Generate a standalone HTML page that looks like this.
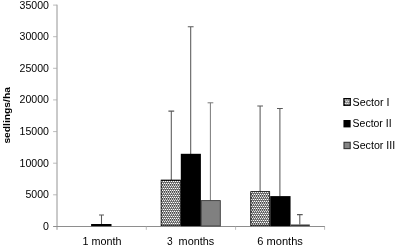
<!DOCTYPE html>
<html><head><meta charset="utf-8"><title>chart</title>
<style>
html,body{margin:0;padding:0;background:#fff;}
svg{display:block}
text{font-family:"Liberation Sans",sans-serif;fill:#000;}
</style></head><body>
<svg width="395" height="246" viewBox="0 0 395 246">
<defs>
<clipPath id="c1"><rect x="160.6" y="179.6" width="20.2" height="46.6"/></clipPath>
<clipPath id="c2"><rect x="250.3" y="191.2" width="19.9" height="35.0"/></clipPath>
<clipPath id="c3"><rect x="343.3" y="98.0" width="7.6" height="7.9"/></clipPath>
</defs>
<rect width="395" height="246" fill="#fff"/>
<!-- axes -->
<g stroke="#949494" stroke-width="1" fill="none">
<line x1="57" y1="4.7" x2="57" y2="229.8"/>
<line x1="53.1" y1="226.5" x2="325" y2="226.5" stroke="#8e8e8e"/>
<g stroke="#aaa" stroke-width="0.8">
<line x1="53.1" y1="5.1" x2="57" y2="5.1"/>
<line x1="53.1" y1="36.7" x2="57" y2="36.7"/>
<line x1="53.1" y1="68.3" x2="57" y2="68.3"/>
<line x1="53.1" y1="99.9" x2="57" y2="99.9"/>
<line x1="53.1" y1="131.6" x2="57" y2="131.6"/>
<line x1="53.1" y1="163.2" x2="57" y2="163.2"/>
<line x1="53.1" y1="194.8" x2="57" y2="194.8"/>
<line x1="146.3" y1="226.4" x2="146.3" y2="229.8"/>
<line x1="235.6" y1="226.4" x2="235.6" y2="229.8"/>
<line x1="324.6" y1="226.4" x2="324.6" y2="229.8"/>
</g>
</g>
<!-- error bars -->
<g stroke="#5a5a5a" stroke-width="1.05" fill="none">
<path d="M101.5 225V214.9M99 214.9H104"/>
<path d="M171.3 180V111.1M168.4 111.1H174.2"/>
<path d="M190.7 154V26.8M187.8 26.8H193.6"/>
<path d="M210.4 200.5V102.8M207.6 102.8H213.3" stroke="#727272" stroke-width="0.95"/>
<path d="M260.1 191.5V106M257.3 106H263"/>
<path d="M279.9 196.5V108.5M277 108.5H282.8"/>
<path d="M299.8 224.5V214.6M297 214.6H302.7"/>
</g>
<!-- bars -->
<rect x="91.1" y="224" width="20.4" height="2.2" fill="#000"/>
<g clip-path="url(#c1)"><rect x="160.6" y="179.6" width="20.2" height="46.6" fill="#101010"/><g fill="#fff"><circle cx="161.50" cy="181.50" r="0.87"/><circle cx="163.50" cy="181.50" r="0.87"/><circle cx="165.50" cy="181.50" r="0.87"/><circle cx="167.50" cy="181.50" r="0.87"/><circle cx="169.50" cy="181.50" r="0.87"/><circle cx="171.50" cy="181.50" r="0.87"/><circle cx="173.50" cy="181.50" r="0.87"/><circle cx="175.50" cy="181.50" r="0.87"/><circle cx="177.50" cy="181.50" r="0.87"/><circle cx="179.50" cy="181.50" r="0.87"/><circle cx="181.50" cy="181.50" r="0.87"/><circle cx="162.50" cy="183.25" r="0.87"/><circle cx="164.50" cy="183.25" r="0.87"/><circle cx="166.50" cy="183.25" r="0.87"/><circle cx="168.50" cy="183.25" r="0.87"/><circle cx="170.50" cy="183.25" r="0.87"/><circle cx="172.50" cy="183.25" r="0.87"/><circle cx="174.50" cy="183.25" r="0.87"/><circle cx="176.50" cy="183.25" r="0.87"/><circle cx="178.50" cy="183.25" r="0.87"/><circle cx="180.50" cy="183.25" r="0.87"/><circle cx="161.50" cy="185.00" r="0.87"/><circle cx="163.50" cy="185.00" r="0.87"/><circle cx="165.50" cy="185.00" r="0.87"/><circle cx="167.50" cy="185.00" r="0.87"/><circle cx="169.50" cy="185.00" r="0.87"/><circle cx="171.50" cy="185.00" r="0.87"/><circle cx="173.50" cy="185.00" r="0.87"/><circle cx="175.50" cy="185.00" r="0.87"/><circle cx="177.50" cy="185.00" r="0.87"/><circle cx="179.50" cy="185.00" r="0.87"/><circle cx="181.50" cy="185.00" r="0.87"/><circle cx="162.50" cy="186.75" r="0.87"/><circle cx="164.50" cy="186.75" r="0.87"/><circle cx="166.50" cy="186.75" r="0.87"/><circle cx="168.50" cy="186.75" r="0.87"/><circle cx="170.50" cy="186.75" r="0.87"/><circle cx="172.50" cy="186.75" r="0.87"/><circle cx="174.50" cy="186.75" r="0.87"/><circle cx="176.50" cy="186.75" r="0.87"/><circle cx="178.50" cy="186.75" r="0.87"/><circle cx="180.50" cy="186.75" r="0.87"/><circle cx="161.50" cy="188.50" r="0.87"/><circle cx="163.50" cy="188.50" r="0.87"/><circle cx="165.50" cy="188.50" r="0.87"/><circle cx="167.50" cy="188.50" r="0.87"/><circle cx="169.50" cy="188.50" r="0.87"/><circle cx="171.50" cy="188.50" r="0.87"/><circle cx="173.50" cy="188.50" r="0.87"/><circle cx="175.50" cy="188.50" r="0.87"/><circle cx="177.50" cy="188.50" r="0.87"/><circle cx="179.50" cy="188.50" r="0.87"/><circle cx="181.50" cy="188.50" r="0.87"/><circle cx="162.50" cy="190.25" r="0.87"/><circle cx="164.50" cy="190.25" r="0.87"/><circle cx="166.50" cy="190.25" r="0.87"/><circle cx="168.50" cy="190.25" r="0.87"/><circle cx="170.50" cy="190.25" r="0.87"/><circle cx="172.50" cy="190.25" r="0.87"/><circle cx="174.50" cy="190.25" r="0.87"/><circle cx="176.50" cy="190.25" r="0.87"/><circle cx="178.50" cy="190.25" r="0.87"/><circle cx="180.50" cy="190.25" r="0.87"/><circle cx="161.50" cy="192.00" r="0.87"/><circle cx="163.50" cy="192.00" r="0.87"/><circle cx="165.50" cy="192.00" r="0.87"/><circle cx="167.50" cy="192.00" r="0.87"/><circle cx="169.50" cy="192.00" r="0.87"/><circle cx="171.50" cy="192.00" r="0.87"/><circle cx="173.50" cy="192.00" r="0.87"/><circle cx="175.50" cy="192.00" r="0.87"/><circle cx="177.50" cy="192.00" r="0.87"/><circle cx="179.50" cy="192.00" r="0.87"/><circle cx="181.50" cy="192.00" r="0.87"/><circle cx="162.50" cy="193.75" r="0.87"/><circle cx="164.50" cy="193.75" r="0.87"/><circle cx="166.50" cy="193.75" r="0.87"/><circle cx="168.50" cy="193.75" r="0.87"/><circle cx="170.50" cy="193.75" r="0.87"/><circle cx="172.50" cy="193.75" r="0.87"/><circle cx="174.50" cy="193.75" r="0.87"/><circle cx="176.50" cy="193.75" r="0.87"/><circle cx="178.50" cy="193.75" r="0.87"/><circle cx="180.50" cy="193.75" r="0.87"/><circle cx="161.50" cy="195.50" r="0.87"/><circle cx="163.50" cy="195.50" r="0.87"/><circle cx="165.50" cy="195.50" r="0.87"/><circle cx="167.50" cy="195.50" r="0.87"/><circle cx="169.50" cy="195.50" r="0.87"/><circle cx="171.50" cy="195.50" r="0.87"/><circle cx="173.50" cy="195.50" r="0.87"/><circle cx="175.50" cy="195.50" r="0.87"/><circle cx="177.50" cy="195.50" r="0.87"/><circle cx="179.50" cy="195.50" r="0.87"/><circle cx="181.50" cy="195.50" r="0.87"/><circle cx="162.50" cy="197.25" r="0.87"/><circle cx="164.50" cy="197.25" r="0.87"/><circle cx="166.50" cy="197.25" r="0.87"/><circle cx="168.50" cy="197.25" r="0.87"/><circle cx="170.50" cy="197.25" r="0.87"/><circle cx="172.50" cy="197.25" r="0.87"/><circle cx="174.50" cy="197.25" r="0.87"/><circle cx="176.50" cy="197.25" r="0.87"/><circle cx="178.50" cy="197.25" r="0.87"/><circle cx="180.50" cy="197.25" r="0.87"/><circle cx="161.50" cy="199.00" r="0.87"/><circle cx="163.50" cy="199.00" r="0.87"/><circle cx="165.50" cy="199.00" r="0.87"/><circle cx="167.50" cy="199.00" r="0.87"/><circle cx="169.50" cy="199.00" r="0.87"/><circle cx="171.50" cy="199.00" r="0.87"/><circle cx="173.50" cy="199.00" r="0.87"/><circle cx="175.50" cy="199.00" r="0.87"/><circle cx="177.50" cy="199.00" r="0.87"/><circle cx="179.50" cy="199.00" r="0.87"/><circle cx="181.50" cy="199.00" r="0.87"/><circle cx="162.50" cy="200.75" r="0.87"/><circle cx="164.50" cy="200.75" r="0.87"/><circle cx="166.50" cy="200.75" r="0.87"/><circle cx="168.50" cy="200.75" r="0.87"/><circle cx="170.50" cy="200.75" r="0.87"/><circle cx="172.50" cy="200.75" r="0.87"/><circle cx="174.50" cy="200.75" r="0.87"/><circle cx="176.50" cy="200.75" r="0.87"/><circle cx="178.50" cy="200.75" r="0.87"/><circle cx="180.50" cy="200.75" r="0.87"/><circle cx="161.50" cy="202.50" r="0.87"/><circle cx="163.50" cy="202.50" r="0.87"/><circle cx="165.50" cy="202.50" r="0.87"/><circle cx="167.50" cy="202.50" r="0.87"/><circle cx="169.50" cy="202.50" r="0.87"/><circle cx="171.50" cy="202.50" r="0.87"/><circle cx="173.50" cy="202.50" r="0.87"/><circle cx="175.50" cy="202.50" r="0.87"/><circle cx="177.50" cy="202.50" r="0.87"/><circle cx="179.50" cy="202.50" r="0.87"/><circle cx="181.50" cy="202.50" r="0.87"/><circle cx="162.50" cy="204.25" r="0.87"/><circle cx="164.50" cy="204.25" r="0.87"/><circle cx="166.50" cy="204.25" r="0.87"/><circle cx="168.50" cy="204.25" r="0.87"/><circle cx="170.50" cy="204.25" r="0.87"/><circle cx="172.50" cy="204.25" r="0.87"/><circle cx="174.50" cy="204.25" r="0.87"/><circle cx="176.50" cy="204.25" r="0.87"/><circle cx="178.50" cy="204.25" r="0.87"/><circle cx="180.50" cy="204.25" r="0.87"/><circle cx="161.50" cy="206.00" r="0.87"/><circle cx="163.50" cy="206.00" r="0.87"/><circle cx="165.50" cy="206.00" r="0.87"/><circle cx="167.50" cy="206.00" r="0.87"/><circle cx="169.50" cy="206.00" r="0.87"/><circle cx="171.50" cy="206.00" r="0.87"/><circle cx="173.50" cy="206.00" r="0.87"/><circle cx="175.50" cy="206.00" r="0.87"/><circle cx="177.50" cy="206.00" r="0.87"/><circle cx="179.50" cy="206.00" r="0.87"/><circle cx="181.50" cy="206.00" r="0.87"/><circle cx="162.50" cy="207.75" r="0.87"/><circle cx="164.50" cy="207.75" r="0.87"/><circle cx="166.50" cy="207.75" r="0.87"/><circle cx="168.50" cy="207.75" r="0.87"/><circle cx="170.50" cy="207.75" r="0.87"/><circle cx="172.50" cy="207.75" r="0.87"/><circle cx="174.50" cy="207.75" r="0.87"/><circle cx="176.50" cy="207.75" r="0.87"/><circle cx="178.50" cy="207.75" r="0.87"/><circle cx="180.50" cy="207.75" r="0.87"/><circle cx="161.50" cy="209.50" r="0.87"/><circle cx="163.50" cy="209.50" r="0.87"/><circle cx="165.50" cy="209.50" r="0.87"/><circle cx="167.50" cy="209.50" r="0.87"/><circle cx="169.50" cy="209.50" r="0.87"/><circle cx="171.50" cy="209.50" r="0.87"/><circle cx="173.50" cy="209.50" r="0.87"/><circle cx="175.50" cy="209.50" r="0.87"/><circle cx="177.50" cy="209.50" r="0.87"/><circle cx="179.50" cy="209.50" r="0.87"/><circle cx="181.50" cy="209.50" r="0.87"/><circle cx="162.50" cy="211.25" r="0.87"/><circle cx="164.50" cy="211.25" r="0.87"/><circle cx="166.50" cy="211.25" r="0.87"/><circle cx="168.50" cy="211.25" r="0.87"/><circle cx="170.50" cy="211.25" r="0.87"/><circle cx="172.50" cy="211.25" r="0.87"/><circle cx="174.50" cy="211.25" r="0.87"/><circle cx="176.50" cy="211.25" r="0.87"/><circle cx="178.50" cy="211.25" r="0.87"/><circle cx="180.50" cy="211.25" r="0.87"/><circle cx="161.50" cy="213.00" r="0.87"/><circle cx="163.50" cy="213.00" r="0.87"/><circle cx="165.50" cy="213.00" r="0.87"/><circle cx="167.50" cy="213.00" r="0.87"/><circle cx="169.50" cy="213.00" r="0.87"/><circle cx="171.50" cy="213.00" r="0.87"/><circle cx="173.50" cy="213.00" r="0.87"/><circle cx="175.50" cy="213.00" r="0.87"/><circle cx="177.50" cy="213.00" r="0.87"/><circle cx="179.50" cy="213.00" r="0.87"/><circle cx="181.50" cy="213.00" r="0.87"/><circle cx="162.50" cy="214.75" r="0.87"/><circle cx="164.50" cy="214.75" r="0.87"/><circle cx="166.50" cy="214.75" r="0.87"/><circle cx="168.50" cy="214.75" r="0.87"/><circle cx="170.50" cy="214.75" r="0.87"/><circle cx="172.50" cy="214.75" r="0.87"/><circle cx="174.50" cy="214.75" r="0.87"/><circle cx="176.50" cy="214.75" r="0.87"/><circle cx="178.50" cy="214.75" r="0.87"/><circle cx="180.50" cy="214.75" r="0.87"/><circle cx="161.50" cy="216.50" r="0.87"/><circle cx="163.50" cy="216.50" r="0.87"/><circle cx="165.50" cy="216.50" r="0.87"/><circle cx="167.50" cy="216.50" r="0.87"/><circle cx="169.50" cy="216.50" r="0.87"/><circle cx="171.50" cy="216.50" r="0.87"/><circle cx="173.50" cy="216.50" r="0.87"/><circle cx="175.50" cy="216.50" r="0.87"/><circle cx="177.50" cy="216.50" r="0.87"/><circle cx="179.50" cy="216.50" r="0.87"/><circle cx="181.50" cy="216.50" r="0.87"/><circle cx="162.50" cy="218.25" r="0.87"/><circle cx="164.50" cy="218.25" r="0.87"/><circle cx="166.50" cy="218.25" r="0.87"/><circle cx="168.50" cy="218.25" r="0.87"/><circle cx="170.50" cy="218.25" r="0.87"/><circle cx="172.50" cy="218.25" r="0.87"/><circle cx="174.50" cy="218.25" r="0.87"/><circle cx="176.50" cy="218.25" r="0.87"/><circle cx="178.50" cy="218.25" r="0.87"/><circle cx="180.50" cy="218.25" r="0.87"/><circle cx="161.50" cy="220.00" r="0.87"/><circle cx="163.50" cy="220.00" r="0.87"/><circle cx="165.50" cy="220.00" r="0.87"/><circle cx="167.50" cy="220.00" r="0.87"/><circle cx="169.50" cy="220.00" r="0.87"/><circle cx="171.50" cy="220.00" r="0.87"/><circle cx="173.50" cy="220.00" r="0.87"/><circle cx="175.50" cy="220.00" r="0.87"/><circle cx="177.50" cy="220.00" r="0.87"/><circle cx="179.50" cy="220.00" r="0.87"/><circle cx="181.50" cy="220.00" r="0.87"/><circle cx="162.50" cy="221.75" r="0.87"/><circle cx="164.50" cy="221.75" r="0.87"/><circle cx="166.50" cy="221.75" r="0.87"/><circle cx="168.50" cy="221.75" r="0.87"/><circle cx="170.50" cy="221.75" r="0.87"/><circle cx="172.50" cy="221.75" r="0.87"/><circle cx="174.50" cy="221.75" r="0.87"/><circle cx="176.50" cy="221.75" r="0.87"/><circle cx="178.50" cy="221.75" r="0.87"/><circle cx="180.50" cy="221.75" r="0.87"/><circle cx="161.50" cy="223.50" r="0.87"/><circle cx="163.50" cy="223.50" r="0.87"/><circle cx="165.50" cy="223.50" r="0.87"/><circle cx="167.50" cy="223.50" r="0.87"/><circle cx="169.50" cy="223.50" r="0.87"/><circle cx="171.50" cy="223.50" r="0.87"/><circle cx="173.50" cy="223.50" r="0.87"/><circle cx="175.50" cy="223.50" r="0.87"/><circle cx="177.50" cy="223.50" r="0.87"/><circle cx="179.50" cy="223.50" r="0.87"/><circle cx="181.50" cy="223.50" r="0.87"/><circle cx="162.50" cy="225.25" r="0.87"/><circle cx="164.50" cy="225.25" r="0.87"/><circle cx="166.50" cy="225.25" r="0.87"/><circle cx="168.50" cy="225.25" r="0.87"/><circle cx="170.50" cy="225.25" r="0.87"/><circle cx="172.50" cy="225.25" r="0.87"/><circle cx="174.50" cy="225.25" r="0.87"/><circle cx="176.50" cy="225.25" r="0.87"/><circle cx="178.50" cy="225.25" r="0.87"/><circle cx="180.50" cy="225.25" r="0.87"/><circle cx="161.50" cy="227.00" r="0.87"/><circle cx="163.50" cy="227.00" r="0.87"/><circle cx="165.50" cy="227.00" r="0.87"/><circle cx="167.50" cy="227.00" r="0.87"/><circle cx="169.50" cy="227.00" r="0.87"/><circle cx="171.50" cy="227.00" r="0.87"/><circle cx="173.50" cy="227.00" r="0.87"/><circle cx="175.50" cy="227.00" r="0.87"/><circle cx="177.50" cy="227.00" r="0.87"/><circle cx="179.50" cy="227.00" r="0.87"/><circle cx="181.50" cy="227.00" r="0.87"/></g><rect x="161.03" y="180.03" width="19.35" height="45.75" fill="none" stroke="#000" stroke-width="0.85"/></g>
<rect x="180.8" y="153.8" width="20.1" height="72.4" fill="#000"/>
<rect x="201.3" y="200.6" width="19" height="25.4" fill="#808080" stroke="#3a3a3a" stroke-width="0.9"/>
<g clip-path="url(#c2)"><rect x="250.3" y="191.2" width="19.9" height="35.0" fill="#101010"/><g fill="#fff"><circle cx="251.50" cy="192.50" r="0.87"/><circle cx="253.50" cy="192.50" r="0.87"/><circle cx="255.50" cy="192.50" r="0.87"/><circle cx="257.50" cy="192.50" r="0.87"/><circle cx="259.50" cy="192.50" r="0.87"/><circle cx="261.50" cy="192.50" r="0.87"/><circle cx="263.50" cy="192.50" r="0.87"/><circle cx="265.50" cy="192.50" r="0.87"/><circle cx="267.50" cy="192.50" r="0.87"/><circle cx="269.50" cy="192.50" r="0.87"/><circle cx="252.50" cy="194.25" r="0.87"/><circle cx="254.50" cy="194.25" r="0.87"/><circle cx="256.50" cy="194.25" r="0.87"/><circle cx="258.50" cy="194.25" r="0.87"/><circle cx="260.50" cy="194.25" r="0.87"/><circle cx="262.50" cy="194.25" r="0.87"/><circle cx="264.50" cy="194.25" r="0.87"/><circle cx="266.50" cy="194.25" r="0.87"/><circle cx="268.50" cy="194.25" r="0.87"/><circle cx="270.50" cy="194.25" r="0.87"/><circle cx="251.50" cy="196.00" r="0.87"/><circle cx="253.50" cy="196.00" r="0.87"/><circle cx="255.50" cy="196.00" r="0.87"/><circle cx="257.50" cy="196.00" r="0.87"/><circle cx="259.50" cy="196.00" r="0.87"/><circle cx="261.50" cy="196.00" r="0.87"/><circle cx="263.50" cy="196.00" r="0.87"/><circle cx="265.50" cy="196.00" r="0.87"/><circle cx="267.50" cy="196.00" r="0.87"/><circle cx="269.50" cy="196.00" r="0.87"/><circle cx="252.50" cy="197.75" r="0.87"/><circle cx="254.50" cy="197.75" r="0.87"/><circle cx="256.50" cy="197.75" r="0.87"/><circle cx="258.50" cy="197.75" r="0.87"/><circle cx="260.50" cy="197.75" r="0.87"/><circle cx="262.50" cy="197.75" r="0.87"/><circle cx="264.50" cy="197.75" r="0.87"/><circle cx="266.50" cy="197.75" r="0.87"/><circle cx="268.50" cy="197.75" r="0.87"/><circle cx="270.50" cy="197.75" r="0.87"/><circle cx="251.50" cy="199.50" r="0.87"/><circle cx="253.50" cy="199.50" r="0.87"/><circle cx="255.50" cy="199.50" r="0.87"/><circle cx="257.50" cy="199.50" r="0.87"/><circle cx="259.50" cy="199.50" r="0.87"/><circle cx="261.50" cy="199.50" r="0.87"/><circle cx="263.50" cy="199.50" r="0.87"/><circle cx="265.50" cy="199.50" r="0.87"/><circle cx="267.50" cy="199.50" r="0.87"/><circle cx="269.50" cy="199.50" r="0.87"/><circle cx="252.50" cy="201.25" r="0.87"/><circle cx="254.50" cy="201.25" r="0.87"/><circle cx="256.50" cy="201.25" r="0.87"/><circle cx="258.50" cy="201.25" r="0.87"/><circle cx="260.50" cy="201.25" r="0.87"/><circle cx="262.50" cy="201.25" r="0.87"/><circle cx="264.50" cy="201.25" r="0.87"/><circle cx="266.50" cy="201.25" r="0.87"/><circle cx="268.50" cy="201.25" r="0.87"/><circle cx="270.50" cy="201.25" r="0.87"/><circle cx="251.50" cy="203.00" r="0.87"/><circle cx="253.50" cy="203.00" r="0.87"/><circle cx="255.50" cy="203.00" r="0.87"/><circle cx="257.50" cy="203.00" r="0.87"/><circle cx="259.50" cy="203.00" r="0.87"/><circle cx="261.50" cy="203.00" r="0.87"/><circle cx="263.50" cy="203.00" r="0.87"/><circle cx="265.50" cy="203.00" r="0.87"/><circle cx="267.50" cy="203.00" r="0.87"/><circle cx="269.50" cy="203.00" r="0.87"/><circle cx="252.50" cy="204.75" r="0.87"/><circle cx="254.50" cy="204.75" r="0.87"/><circle cx="256.50" cy="204.75" r="0.87"/><circle cx="258.50" cy="204.75" r="0.87"/><circle cx="260.50" cy="204.75" r="0.87"/><circle cx="262.50" cy="204.75" r="0.87"/><circle cx="264.50" cy="204.75" r="0.87"/><circle cx="266.50" cy="204.75" r="0.87"/><circle cx="268.50" cy="204.75" r="0.87"/><circle cx="270.50" cy="204.75" r="0.87"/><circle cx="251.50" cy="206.50" r="0.87"/><circle cx="253.50" cy="206.50" r="0.87"/><circle cx="255.50" cy="206.50" r="0.87"/><circle cx="257.50" cy="206.50" r="0.87"/><circle cx="259.50" cy="206.50" r="0.87"/><circle cx="261.50" cy="206.50" r="0.87"/><circle cx="263.50" cy="206.50" r="0.87"/><circle cx="265.50" cy="206.50" r="0.87"/><circle cx="267.50" cy="206.50" r="0.87"/><circle cx="269.50" cy="206.50" r="0.87"/><circle cx="252.50" cy="208.25" r="0.87"/><circle cx="254.50" cy="208.25" r="0.87"/><circle cx="256.50" cy="208.25" r="0.87"/><circle cx="258.50" cy="208.25" r="0.87"/><circle cx="260.50" cy="208.25" r="0.87"/><circle cx="262.50" cy="208.25" r="0.87"/><circle cx="264.50" cy="208.25" r="0.87"/><circle cx="266.50" cy="208.25" r="0.87"/><circle cx="268.50" cy="208.25" r="0.87"/><circle cx="270.50" cy="208.25" r="0.87"/><circle cx="251.50" cy="210.00" r="0.87"/><circle cx="253.50" cy="210.00" r="0.87"/><circle cx="255.50" cy="210.00" r="0.87"/><circle cx="257.50" cy="210.00" r="0.87"/><circle cx="259.50" cy="210.00" r="0.87"/><circle cx="261.50" cy="210.00" r="0.87"/><circle cx="263.50" cy="210.00" r="0.87"/><circle cx="265.50" cy="210.00" r="0.87"/><circle cx="267.50" cy="210.00" r="0.87"/><circle cx="269.50" cy="210.00" r="0.87"/><circle cx="252.50" cy="211.75" r="0.87"/><circle cx="254.50" cy="211.75" r="0.87"/><circle cx="256.50" cy="211.75" r="0.87"/><circle cx="258.50" cy="211.75" r="0.87"/><circle cx="260.50" cy="211.75" r="0.87"/><circle cx="262.50" cy="211.75" r="0.87"/><circle cx="264.50" cy="211.75" r="0.87"/><circle cx="266.50" cy="211.75" r="0.87"/><circle cx="268.50" cy="211.75" r="0.87"/><circle cx="270.50" cy="211.75" r="0.87"/><circle cx="251.50" cy="213.50" r="0.87"/><circle cx="253.50" cy="213.50" r="0.87"/><circle cx="255.50" cy="213.50" r="0.87"/><circle cx="257.50" cy="213.50" r="0.87"/><circle cx="259.50" cy="213.50" r="0.87"/><circle cx="261.50" cy="213.50" r="0.87"/><circle cx="263.50" cy="213.50" r="0.87"/><circle cx="265.50" cy="213.50" r="0.87"/><circle cx="267.50" cy="213.50" r="0.87"/><circle cx="269.50" cy="213.50" r="0.87"/><circle cx="252.50" cy="215.25" r="0.87"/><circle cx="254.50" cy="215.25" r="0.87"/><circle cx="256.50" cy="215.25" r="0.87"/><circle cx="258.50" cy="215.25" r="0.87"/><circle cx="260.50" cy="215.25" r="0.87"/><circle cx="262.50" cy="215.25" r="0.87"/><circle cx="264.50" cy="215.25" r="0.87"/><circle cx="266.50" cy="215.25" r="0.87"/><circle cx="268.50" cy="215.25" r="0.87"/><circle cx="270.50" cy="215.25" r="0.87"/><circle cx="251.50" cy="217.00" r="0.87"/><circle cx="253.50" cy="217.00" r="0.87"/><circle cx="255.50" cy="217.00" r="0.87"/><circle cx="257.50" cy="217.00" r="0.87"/><circle cx="259.50" cy="217.00" r="0.87"/><circle cx="261.50" cy="217.00" r="0.87"/><circle cx="263.50" cy="217.00" r="0.87"/><circle cx="265.50" cy="217.00" r="0.87"/><circle cx="267.50" cy="217.00" r="0.87"/><circle cx="269.50" cy="217.00" r="0.87"/><circle cx="252.50" cy="218.75" r="0.87"/><circle cx="254.50" cy="218.75" r="0.87"/><circle cx="256.50" cy="218.75" r="0.87"/><circle cx="258.50" cy="218.75" r="0.87"/><circle cx="260.50" cy="218.75" r="0.87"/><circle cx="262.50" cy="218.75" r="0.87"/><circle cx="264.50" cy="218.75" r="0.87"/><circle cx="266.50" cy="218.75" r="0.87"/><circle cx="268.50" cy="218.75" r="0.87"/><circle cx="270.50" cy="218.75" r="0.87"/><circle cx="251.50" cy="220.50" r="0.87"/><circle cx="253.50" cy="220.50" r="0.87"/><circle cx="255.50" cy="220.50" r="0.87"/><circle cx="257.50" cy="220.50" r="0.87"/><circle cx="259.50" cy="220.50" r="0.87"/><circle cx="261.50" cy="220.50" r="0.87"/><circle cx="263.50" cy="220.50" r="0.87"/><circle cx="265.50" cy="220.50" r="0.87"/><circle cx="267.50" cy="220.50" r="0.87"/><circle cx="269.50" cy="220.50" r="0.87"/><circle cx="252.50" cy="222.25" r="0.87"/><circle cx="254.50" cy="222.25" r="0.87"/><circle cx="256.50" cy="222.25" r="0.87"/><circle cx="258.50" cy="222.25" r="0.87"/><circle cx="260.50" cy="222.25" r="0.87"/><circle cx="262.50" cy="222.25" r="0.87"/><circle cx="264.50" cy="222.25" r="0.87"/><circle cx="266.50" cy="222.25" r="0.87"/><circle cx="268.50" cy="222.25" r="0.87"/><circle cx="270.50" cy="222.25" r="0.87"/><circle cx="251.50" cy="224.00" r="0.87"/><circle cx="253.50" cy="224.00" r="0.87"/><circle cx="255.50" cy="224.00" r="0.87"/><circle cx="257.50" cy="224.00" r="0.87"/><circle cx="259.50" cy="224.00" r="0.87"/><circle cx="261.50" cy="224.00" r="0.87"/><circle cx="263.50" cy="224.00" r="0.87"/><circle cx="265.50" cy="224.00" r="0.87"/><circle cx="267.50" cy="224.00" r="0.87"/><circle cx="269.50" cy="224.00" r="0.87"/><circle cx="252.50" cy="225.75" r="0.87"/><circle cx="254.50" cy="225.75" r="0.87"/><circle cx="256.50" cy="225.75" r="0.87"/><circle cx="258.50" cy="225.75" r="0.87"/><circle cx="260.50" cy="225.75" r="0.87"/><circle cx="262.50" cy="225.75" r="0.87"/><circle cx="264.50" cy="225.75" r="0.87"/><circle cx="266.50" cy="225.75" r="0.87"/><circle cx="268.50" cy="225.75" r="0.87"/><circle cx="270.50" cy="225.75" r="0.87"/></g><rect x="250.73" y="191.62" width="19.05" height="34.15" fill="none" stroke="#000" stroke-width="0.85"/></g>
<rect x="270.2" y="196.1" width="20.35" height="30.1" fill="#000"/>
<rect x="290.5" y="224.5" width="19.3" height="1.6" fill="#383838"/>
<!-- y labels -->
<g font-size="10.7" text-anchor="end">
<text x="49" y="8.5" textLength="29.4" lengthAdjust="spacingAndGlyphs">35000</text>
<text x="49" y="40.1" textLength="29.4" lengthAdjust="spacingAndGlyphs">30000</text>
<text x="49" y="71.7" textLength="29.4" lengthAdjust="spacingAndGlyphs">25000</text>
<text x="49" y="103.3" textLength="29.4" lengthAdjust="spacingAndGlyphs">20000</text>
<text x="49" y="134.9" textLength="29.4" lengthAdjust="spacingAndGlyphs">15000</text>
<text x="49" y="166.5" textLength="29.4" lengthAdjust="spacingAndGlyphs">10000</text>
<text x="49" y="198.1" textLength="23.5" lengthAdjust="spacingAndGlyphs">5000</text>
<text x="49" y="229.7" textLength="5.9" lengthAdjust="spacingAndGlyphs">0</text>
</g>
<!-- x labels -->
<g font-size="10.6">
<text x="82.4" y="244.7" textLength="39" lengthAdjust="spacingAndGlyphs">1 month</text>
<text y="244.7"><tspan x="167" textLength="5.7" lengthAdjust="spacingAndGlyphs">3</tspan> <tspan x="178.6" textLength="35.6" lengthAdjust="spacingAndGlyphs">months</tspan></text>
<text x="257.3" y="244.7" textLength="45.6" lengthAdjust="spacingAndGlyphs">6 months</text>
</g>
<!-- y title -->
<text transform="translate(10.4,143.6) rotate(-90)" font-size="9.9" font-weight="bold" textLength="56.5" lengthAdjust="spacingAndGlyphs">sedlings/ha</text>
<!-- legend -->
<g clip-path="url(#c3)"><rect x="343.3" y="98.0" width="7.6" height="7.9" fill="#101010"/><g fill="#fff"><circle cx="345.10" cy="99.90" r="0.85"/><circle cx="347.10" cy="99.90" r="0.85"/><circle cx="349.10" cy="99.90" r="0.85"/><circle cx="351.10" cy="99.90" r="0.85"/><circle cx="346.10" cy="101.65" r="0.85"/><circle cx="348.10" cy="101.65" r="0.85"/><circle cx="350.10" cy="101.65" r="0.85"/><circle cx="345.10" cy="103.40" r="0.85"/><circle cx="347.10" cy="103.40" r="0.85"/><circle cx="349.10" cy="103.40" r="0.85"/><circle cx="351.10" cy="103.40" r="0.85"/><circle cx="346.10" cy="105.15" r="0.85"/><circle cx="348.10" cy="105.15" r="0.85"/><circle cx="350.10" cy="105.15" r="0.85"/></g><rect x="343.90" y="98.60" width="6.40" height="6.70" fill="none" stroke="#000" stroke-width="1.2"/></g>
<rect x="343.45" y="120" width="7.2" height="7.4" fill="#000"/>
<rect x="344" y="142.3" width="6.2" height="6.3" fill="#858585" stroke="#333" stroke-width="1.1"/>
<g font-size="10">
<text x="352.6" y="105.5" textLength="36.9" lengthAdjust="spacingAndGlyphs">Sector I</text>
<text x="352.6" y="127.2" textLength="39" lengthAdjust="spacingAndGlyphs">Sector II</text>
<text x="352.6" y="148.8" textLength="42.6" lengthAdjust="spacingAndGlyphs">Sector III</text>
</g>
</svg>
</body></html>
